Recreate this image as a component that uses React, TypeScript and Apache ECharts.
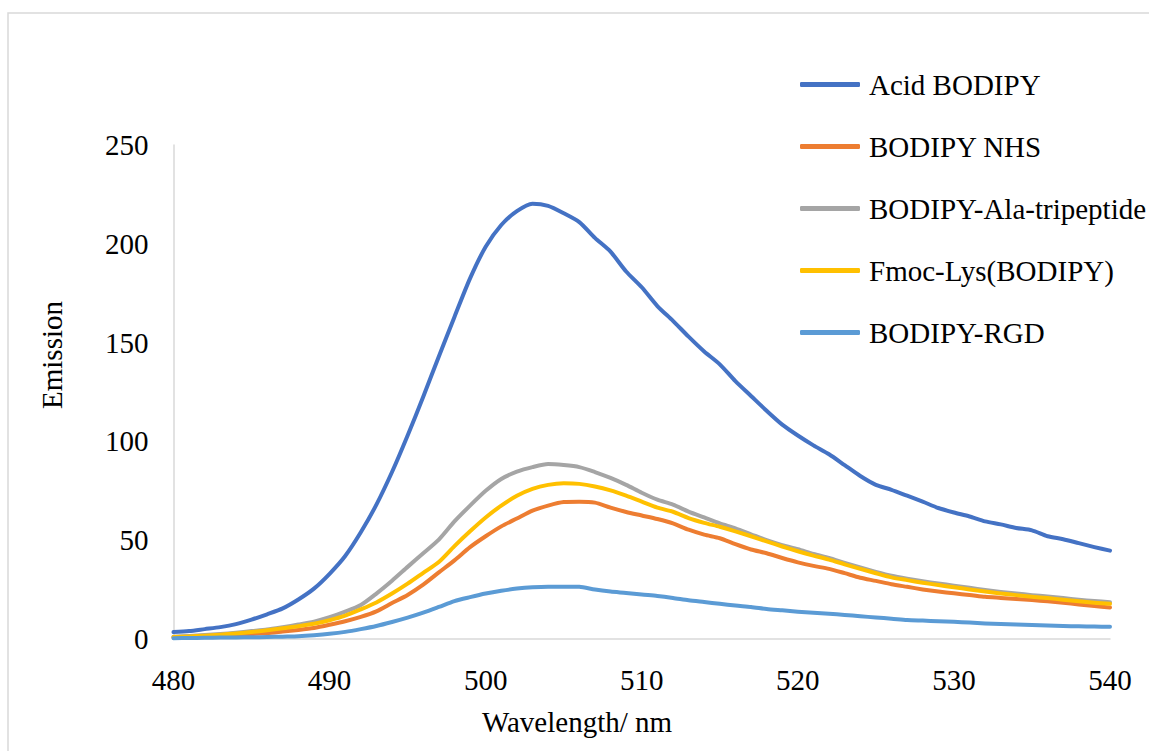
import React, { useEffect, useRef } from "react";
import * as echarts from "echarts";

const wavelengths: number[] = [];
for (let w = 480; w <= 540; w++) wavelengths.push(w);

const acidBodipy = [
  3.5, 4, 5, 6, 7.5, 9.8, 12.5, 15.5, 20, 25.5,
  33, 42, 54, 68, 84.5, 103, 122.6, 143, 163, 182.5,
  198.5, 209.5, 216.5, 220.3, 219.2, 215.5, 211, 203, 196, 186,
  178, 168.5, 161, 153, 145.5, 139, 130.5, 123, 115.5, 108.5,
  103, 98, 93.5, 88, 82.5, 78, 75.5, 72.5, 69.5, 66.3,
  64, 62, 59.5, 58, 56.2, 55, 52, 50.5, 48.5, 46.5,
  44.7,
];

const bodipyNHS = [
  0.8, 1, 1.3, 1.6, 2, 2.5, 3, 3.8, 4.6, 5.6,
  7.2, 9, 11.2, 14, 18.2, 22.3, 27.5, 33.7, 39.8, 46.5,
  52, 57, 61, 65, 67.5, 69.3, 69.5, 69, 66.5, 64.3,
  62.5, 60.7, 58.5, 55.3, 52.8, 51, 48, 45.3, 43.4, 41,
  38.8, 37, 35.5, 33.3, 31, 29.4, 27.7, 26.4, 25.1, 24,
  23.1, 22.3, 21.4, 20.8, 20.2, 19.7, 19.1, 18.4, 17.5, 16.7,
  15.9,
];

const alaTripeptide = [
  1.2, 1.5, 2, 2.5, 3.2, 4, 4.8, 6, 7.3, 8.8,
  11, 13.8, 17.2, 23, 29.5, 36.5, 43.4, 50.3, 59.5, 67.5,
  75, 81, 84.7, 87, 88.5, 88, 87, 84.5, 81.5, 78,
  74, 70.5, 68, 64.5, 61.5, 58.5, 56, 53, 50, 47.5,
  45.5, 43, 41, 38.5, 36.2, 34, 32, 30.5, 29.2, 28.1,
  27, 25.9, 24.8, 23.8, 23, 22.2, 21.5, 20.7, 19.9, 19.2,
  18.6,
];

const fmocLys = [
  1, 1.3, 1.7, 2.2, 2.8, 3.5, 4.4, 5.4, 6.5, 7.7,
  9.5, 11.8, 15, 18.5, 23, 28, 33.5, 39, 47, 54.5,
  61.5, 67.5, 72.5, 76, 78, 78.8, 78.5, 77.2, 75.2, 72.5,
  69.5, 66.5, 64.4, 61.2, 58.8, 56.8, 54.5, 52, 49.4, 46.8,
  44.4, 42.2, 40.2, 37.8, 35.5, 33.3, 31.2, 29.8, 28.5, 27.3,
  26.2, 25.1, 24, 23, 22.2, 21.4, 20.7, 19.9, 19.1, 18.4,
  17.8,
];

const bodipyRGD = [
  0.4, 0.5, 0.6, 0.7, 0.8, 0.9, 1, 1.2, 1.4, 1.9,
  2.6, 3.6, 5, 6.6, 8.6, 10.8, 13.3, 16.2, 19.2, 21.2,
  23, 24.4, 25.5, 26.2, 26.5, 26.5, 26.4, 25, 24, 23.3,
  22.5, 21.8, 20.8, 19.6, 18.7, 17.8, 16.9, 16.2, 15.2, 14.5,
  13.8, 13.3, 12.8, 12.2, 11.5, 10.9, 10.3, 9.6, 9.3, 9,
  8.7, 8.3, 7.9, 7.6, 7.3, 7.1, 6.8, 6.6, 6.4, 6.3,
  6.2,
];

const seriesNames = [
  "Acid BODIPY",
  "BODIPY NHS",
  "BODIPY-Ala-tripeptide",
  "Fmoc-Lys(BODIPY)",
  "BODIPY-RGD",
];
const seriesColors = ["#4472C4", "#ED7D31", "#A5A5A5", "#FFC000", "#5B9BD5"];
const seriesValues = [acidBodipy, bodipyNHS, alaTripeptide, fmocLys, bodipyRGD];

const xTicks = [480, 490, 500, 510, 520, 530, 540];
const yTicks = [0, 50, 100, 150, 200, 250];

const FAMILY = "Liberation Serif";
const FONT = "'Liberation Serif', 'Times New Roman', serif";

export default function App() {
  const ref = useRef<HTMLDivElement>(null);
  useEffect(() => {
    if (!ref.current) return;
    const chart = echarts.init(ref.current, undefined, { renderer: "svg" });
    chart.setOption({
      animation: false,
      backgroundColor: "#ffffff",
      textStyle: { fontFamily: FAMILY },
      grid: { left: 173.5, right: 39, top: 145, bottom: 112, containLabel: false },
      legend: {
        orient: "vertical",
        left: 795,
        top: 65,
        icon: "roundRect",
        itemWidth: 60,
        itemHeight: 5,
        itemGap: 33,
        textStyle: { fontFamily: FAMILY, fontSize: 29, color: "#000", padding: [0, 0, 0, 4] },
        data: seriesNames,
      },
      xAxis: {
        type: "value",
        min: xTicks[0],
        max: xTicks[xTicks.length - 1],
        interval: 10,
        axisLine: { show: true, lineStyle: { color: "#d9d9d9", width: 1.5 } },
        axisTick: { show: false },
        splitLine: { show: false },
        axisLabel: { fontFamily: FAMILY, fontSize: 29, color: "#000", margin: 26 },
      },
      yAxis: {
        type: "value",
        min: yTicks[0],
        max: yTicks[yTicks.length - 1],
        interval: 50,
        axisLine: { show: true, lineStyle: { color: "#d9d9d9", width: 1.5 } },
        axisTick: { show: false },
        splitLine: { show: false },
        axisLabel: { fontFamily: FAMILY, fontSize: 29, color: "#000", margin: 25, padding: [13, 0, 0, 0] },
      },
      graphic: [
        {
          type: "rect",
          silent: true,
          shape: { x: 8, y: 13, width: 1300, height: 900 },
          style: { fill: "none", stroke: "#d9d9d9", lineWidth: 1.5 },
          z: -1,
        },
        {
          type: "text",
          x: 577,
          y: 722,
          style: {
            text: "Wavelength/ nm",
            font: `29px ${FONT}`,
            fill: "#000",
            align: "center",
            verticalAlign: "middle",
          },
        },
        {
          type: "text",
          x: 52,
          y: 355,
          rotation: Math.PI / 2,
          style: {
            text: "Emission",
            font: `29px ${FONT}`,
            fill: "#000",
            align: "center",
            verticalAlign: "middle",
          },
        },
      ],
      series: seriesNames.map((name, i) => ({
        name,
        type: "line",
        symbol: "none",
        smooth: 0.25,
        color: seriesColors[i],
        itemStyle: { color: seriesColors[i] },
        lineStyle: { width: 4, color: seriesColors[i], cap: "round", join: "round" },
        data: wavelengths.map((w, j) => [w, seriesValues[i][j]]),
      })),
    });
    return () => chart.dispose();
  }, []);
  return (
    <div
      ref={ref}
      style={{ position: "fixed", left: 0, top: 0, width: 1149, height: 751, background: "#fff" }}
    />
  );
}
